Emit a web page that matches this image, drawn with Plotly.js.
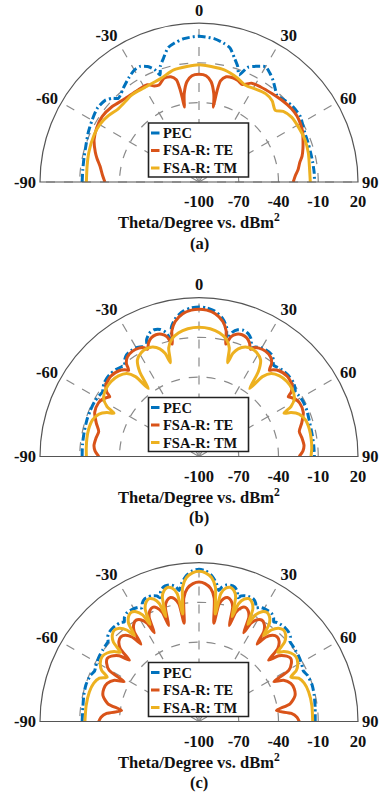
<!DOCTYPE html>
<html>
<head>
<meta charset="utf-8">
<script src="https://cdn.plot.ly/plotly-3.0.1.min.js"></script>
<style>
  html, body { margin: 0; padding: 0; background: #fff; }
  #chart { width: 382px; height: 792px; }
</style>
</head>
<body>
<div id="chart"></div>
<script>
// Monostatic RCS (dBm^2) versus incidence angle, three frequency cases.

const seriesNames = ['PEC', 'FSA-R: TE', 'FSA-R: TM'];
const panelLabels = ['(a)', '(b)', '(c)'];
const radialTicks = [-100, -70, -40, -10, 20];
const radialTickText = ['-100', '-70', '-40', '-10', '20'];
const angleTicks = [-90, -60, -30, 0, 30, 60, 90];
const angleTickText = ['-90', '-60', '-30', '0', '30', '60', '90'];

// ---- case (a) ----
const aPecTheta = [-90,-84,-78,-72,-66,-60,-54,-49,-46,-44,-42,-39,-34,-30,-27,-24,-21.5,-20,-18.5,-16,-13,-10,-6,0,6,10,13,16,18.5,20.5,23,26,30,33,36,40,42,44.5,47,50,54,57,61,65,70,75,80,85,90];
const aPecR = [-11.8,-11.8,-11.3,-10.3,-8.5,-6.8,-5.2,-6.1,-9,-12.3,-11.5,-9.1,-5.2,-2.4,-2.1,-4.6,-9,-14,-8,-2.8,3.9,6.5,8.8,10,8.8,6.5,3.9,-2.8,-8,-13.7,-6,-2.9,0.5,-1.9,-5,-10,-12,-11.4,-10.5,-9.3,-8.9,-8.9,-10.5,-11.9,-12.5,-12.9,-12.9,-12.8,-12.8];

const aTeTheta = [-90,-86,-81,-77,-74,-68,-62,-56,-49,-42,-34,-28,-25,-22.4,-18.7,-15,-12.5,-11.6,-11.2,-11,-10.4,-9.5,-6.9,-3.8,0,3.8,6.9,9.5,10.4,10.8,11.2,12,14.5,17.9,21,24,28,33,39.5,46,51.6,56,59.3,64,67.6,72,75.9,79,82.8,86,90];
const aTeR = [-29,-27,-24.4,-21,-18.6,-14.6,-12.6,-11.8,-13.2,-15.8,-16.7,-16.8,-20,-20.9,-17.4,-17.7,-21,-28,-36,-42.4,-38,-32.4,-23.8,-19.6,-18.7,-19.6,-23.8,-32.4,-38,-42.5,-30,-22,-18,-17.3,-18,-19.5,-15.5,-14.5,-13.5,-12,-10.9,-10.8,-11.5,-13,-15.1,-17.5,-19.8,-22.5,-24.6,-27,-28.9];

const aTmTheta = [-90,-82,-75,-66,-60,-54,-48,-43,-38,-34,-31,-28,-20,-12.7,-6,0,6,12.7,20,25.4,31,37,42,46.8,50,55,62,68,75,83.6,90];
const aTmR = [-15,-14.7,-13.9,-13.2,-13.5,-15.2,-17.7,-17.7,-17,-17.3,-17.7,-17.7,-16.6,-13.3,-12.4,-11.6,-12.4,-13.3,-16.2,-19,-18,-16.5,-17.5,-21,-17,-14.7,-14.2,-13.9,-14.6,-16,-16];

// ---- case (b) ----
const bPecTheta = [-90,-84,-78,-72,-67,-62,-58.5,-56.3,-54.5,-52,-47.7,-43.5,-41,-39.2,-37.6,-35.5,-32.4,-29.5,-27.3,-25.6,-24.2,-22,-19.5,-17,-15,-13.4,-12,-9.5,-6,-3,
  0,
  3,6,9.5,12,13.4,15,17,19.5,22,24.2,25.6,27.3,29.5,32.4,35.5,37.6,39.2,41,43.5,47.7,52,54.5,56.3,58.5,62,67,72,78,84,90];
const bPecR = [-11.8,-11.6,-11.4,-11,-10.9,-11,-11.8,-12.4,-11,-9.3,-8.5,-9.3,-10.5,-11,-8,-5.8,-5,-5.5,-6.8,-9,-3.5,0.2,1.5,0.3,-3,-9,0,6,10.5,12.3,
  12.9,
  12.3,10.5,6,0,-9,-3,0,1,-0.3,-3.5,-9,-7,-5.7,-5,-5.5,-8,-11,-10.5,-9.5,-9,-9.5,-11,-12.5,-11.8,-11.2,-11.5,-12.5,-13,-13,-12.9];

const bTeTheta = [-90,-87,-84,-80,-76,-72,-67,-62,-59,-57.3,-56.3,-55,-52.5,-47.7,-43,-40.5,-39.2,-38,-35.8,-32.4,-29,-26.8,-25.6,-24.1,-22,-19.5,-17,-14.9,-13.4,-12.2,-10,-6.5,-3,
  0,
  3,6.5,10,12.2,13.4,14.9,17,19.5,22,24.1,25.6,26.8,29,32.4,35.8,38,39.2,40.5,43,47.7,52.5,55,56.3,57.3,59,62,67,72,76,80,84,87,90];
const bTeR = [-24.4,-21.5,-20.3,-21,-22,-18.5,-14.5,-14,-15.5,-17.5,-19,-15,-11.5,-10,-11.5,-14,-16,-11,-7.5,-6,-6.5,-8,-10.2,-6.5,-3.5,-2.5,-3.5,-6.5,-12.8,-3,3.5,8.5,10.6,
  11.1,
  10.6,8.5,3.5,-3,-12.8,-6.5,-3.5,-2.5,-3.5,-6.5,-10.2,-8,-6.5,-6,-7.5,-11,-16,-14,-11.5,-10,-11.5,-15,-19,-17.5,-15.5,-14,-14.5,-18.5,-22,-21,-20.3,-21.5,-24.4];

const bTmTheta = [-90,-86,-81,-76,-71,-67,-64.5,-63,-61.5,-58.5,-54,-49.5,-45,-41,-38.5,-36.7,-35,-32.5,-29,-26,-23,-20,-18.2,-16.9,-15.6,-13,-9.5,-5,
  0,
  5,9.5,13,15.6,16.9,18.2,20,23,26,29,32.5,35,36.7,38.5,41,45,49.5,54,58.5,61.5,63,64.5,67,71,76,81,86,90];
const bTmR = [-15,-14.7,-14.3,-14.2,-15,-18,-23,-28,-21,-15.5,-13.2,-12.8,-14,-17,-23,-36,-22,-13.5,-10.3,-9.5,-10.3,-13.5,-18,-26,-15,-9,-5.5,-3.2,
  -2.4,
  -3.2,-5.5,-9,-15,-26,-18,-13.5,-10.3,-9.5,-10.3,-13.5,-22,-36,-23,-17,-14,-12.8,-13.2,-15.5,-21,-28,-23,-18,-15,-14.2,-14.3,-14.7,-15.5];

// ---- case (c) ----
const cPecTheta = [-90,-83,-77,-72,-67,-64.2,-62.3,-59.5,-56.4,-53.3,-50.5,-48.6,-47.2,-45,-42.7,-40.4,-38.3,-36.9,-35.7,-33.8,-31.8,-29.8,-27.9,-26.7,-25.6,-23.9,-22.1,-20.3,-18.6,-17.5,-16.4,-14.8,-13,-11.3,-9.7,-8.6,-7.2,-5,-2.5,
  0,
  2.5,5,7.2,8.6,9.7,11.3,13,14.8,16.4,17.5,18.6,20.3,22.1,23.9,25.6,26.7,27.9,29.8,31.8,33.8,35.7,36.9,38.3,40.4,42.7,45,47.2,48.6,50.5,53.3,56.4,59.5,62.3,64.2,67,72,77,83,90];
const cPecR = [-11.8,-11.7,-10.8,-10.3,-11,-12.5,-11.8,-10.8,-10,-9.5,-9,-8.5,-6,-4.4,-4,-4.2,-4.8,-6,-3.5,-1.7,-1.5,-1.7,-2.5,-4,-1,1.2,1.5,1.2,0,-2,2.5,5,5.5,5,3,0,5,10.5,13.8,
  14.9,
  13.8,10.5,5,0,3,5,5.5,5,2.5,-2,0,1.2,1.5,1.2,-1,-4,-2.5,-1.7,-1.5,-1.7,-3.5,-6,-4.8,-4.2,-4,-4.4,-6,-8.5,-9,-9.5,-10,-10.8,-11.8,-12.5,-11,-10.3,-10.8,-11.7,-12.3];

const cTeTheta = [-90,-87.5,-85,-82,-79,-75,-71,-67.5,-64,-62,-60.3,-57.7,-55.5,-53.3,-50.5,-48.6,-47.2,-45,-42.7,-40.4,-38.3,-36.9,-35.7,-33.8,-31.8,-29.8,-27.9,-26.7,-25.6,-23.9,-22.1,-20.3,-18.6,-17.5,-16.4,-14.8,-13,-11.3,-9.7,-8.6,-7,-5,-2.5,
  0,
  2.5,5,7,8.6,9.7,11.3,13,14.8,16.4,17.5,18.6,20.3,22.1,23.9,25.6,26.7,27.9,29.8,31.8,33.8,35.7,36.9,38.3,40.4,42.7,45,47.2,48.6,50.5,53.3,55.5,57.7,60.3,62,64,67.5,71,75,79,82,85,87.5,90];
const cTeR = [-24.3,-26,-30,-41,-30,-25,-24,-25,-29,-36,-22,-17.5,-16,-17.5,-22,-30,-19,-14.5,-13,-14.5,-19,-27,-16,-11.5,-10,-11.5,-16,-25,-13,-8.5,-7,-8.5,-13,-24,-10,-5.5,-4,-5.5,-10,-25,-6,0.8,4.1,
  5.2,
  4.1,0.8,-6,-25,-10,-5.5,-4,-5.5,-10,-24,-13,-8.5,-7,-8.5,-13,-25,-16,-11.5,-10,-11.5,-16,-27,-19,-14.5,-13,-14.5,-19,-30,-22,-17.5,-16,-17.5,-22,-36,-29,-25,-24,-25,-30,-41,-30,-26,-24.3];

const cTmTheta = [-90,-82,-75,-70,-66.5,-64.2,-62.3,-59.5,-56.4,-53.3,-50.5,-48.6,-47.2,-45,-42.7,-40.4,-38.3,-36.9,-35.7,-33.8,-31.8,-29.8,-27.9,-26.7,-25.6,-23.9,-22.1,-20.3,-18.6,-17.5,-16.4,-14.8,-13,-11.3,-9.7,-8.6,-7,-5,-2.5,
  0,
  2.5,5,7,8.6,9.7,11.3,13,14.8,16.4,17.5,18.6,20.3,22.1,23.9,25.6,26.7,27.9,29.8,31.8,33.8,35.7,36.9,38.3,40.4,42.7,45,47.2,48.6,50.5,53.3,56.4,59.5,62.3,64.2,66.5,70,75,82,90];
const cTmR = [-13.9,-14,-14.3,-15.5,-18,-23,-17,-13.5,-12,-13.5,-17,-21,-12,-7.5,-6,-7.5,-12,-19,-9,-4.5,-3,-4.5,-9,-18,-6,-1.5,0,-1.5,-6,-17,-2,2.5,4,2.5,-2,-18,2,9,12.3,
  13.4,
  12.3,9,2,-18,-2,2.5,4,2.5,-2,-17,-6,-1.5,0,-1.5,-6,-18,-9,-4.5,-3,-4.5,-9,-19,-12,-7.5,-6,-7.5,-12,-21,-17,-13.5,-12,-13.5,-17,-23,-18,-15.5,-14.3,-14,-14.2];

const cases = [
  { pec: [aPecTheta, aPecR], te: [aTeTheta, aTeR], tm: [aTmTheta, aTmR] },
  { pec: [bPecTheta, bPecR], te: [bTeTheta, bTeR], tm: [bTmTheta, bTmR] },
  { pec: [cPecTheta, cPecR], te: [cTeTheta, cTeR], tm: [cTmTheta, cTmR] }
];

// ---- geometry (pixels on the 382 x 792 page) ----
const W = 382, H = 792;
const CX = 199, R = 159;
const baselines = [182, 456.5, 721.5];
const px = x => x / W;
const py = y => 1 - y / H;

const FONT = 'Liberation Serif';
const TXT = '#111';
const colors = ['#0072BD', '#D95319', '#EDB120'];
const gridColor = '#8a8a8a';
const tickFont = { family: FONT, size: 16.5, color: TXT, weight: 700 };
const textFont = { family: FONT, size: 16.5, color: TXT, weight: 700 };
const legendFont = { family: FONT, size: 14.5, color: TXT, weight: 700 };
const bold = s => '<b>' + s + '</b>';

const traces = [];
const layout = {
  width: W, height: H,
  margin: { l: 0, r: 0, t: 0, b: 0 },
  paper_bgcolor: '#fff',
  showlegend: false,
  font: { family: FONT, color: TXT, weight: 700 },
  shapes: [],
  annotations: []
};

cases.forEach((cs, i) => {
  const key = i === 0 ? 'polar' : 'polar' + (i + 1);
  const base = baselines[i];

  [cs.pec, cs.te, cs.tm].forEach((s, k) => {
    traces.push({
      type: 'scatterpolar',
      subplot: key,
      mode: 'lines',
      name: seriesNames[k],
      theta: s[0],
      r: s[1],
      line: {
        color: colors[k],
        width: 3,
        dash: k === 0 ? '8px,3px,2px,3px' : 'solid',
        shape: 'spline',
        smoothing: 0.7
      },
      hoverinfo: 'skip'
    });
  });

  layout[key] = {
    domain: { x: [px(CX - R), px(CX + R)], y: [py(base), py(base - R)] },
    sector: [0, 180],
    bgcolor: '#fff',
    angularaxis: {
      rotation: 90,
      direction: 'clockwise',
      tickmode: 'array',
      tickvals: angleTicks,
      ticktext: angleTickText.map(bold),
      ticks: '',
      showgrid: true,
      gridcolor: gridColor,
      griddash: 'dash',
      gridwidth: 1.2,
      showline: true,
      linecolor: '#555',
      linewidth: 1.2,
      tickfont: tickFont
    },
    radialaxis: {
      range: [-100, 20],
      tickmode: 'array',
      tickvals: radialTicks,
      ticktext: radialTickText.map(bold),
      ticks: 'outside',
      ticklen: 5,
      tickcolor: 'rgba(0,0,0,0)',
      side: 'clockwise',
      showline: false,
      showgrid: true,
      gridcolor: gridColor,
      griddash: 'dash',
      gridwidth: 1.2,
      tickfont: tickFont
    }
  };

  // axis caption and panel tag
  layout.annotations.push({
    xref: 'paper', yref: 'paper', x: px(CX), y: py(base + 40),
    text: bold('Theta/Degree vs. dBm<sup>2</sup>'), showarrow: false,
    xanchor: 'center', yanchor: 'middle', font: textFont
  });
  layout.annotations.push({
    xref: 'paper', yref: 'paper', x: px(CX), y: py(base + 61),
    text: bold(panelLabels[i]), showarrow: false,
    xanchor: 'center', yanchor: 'middle', font: textFont
  });

  // legend box
  const bx0 = 148.5, bx1 = 248.5, by0 = base - 59, by1 = base - 5;
  layout.shapes.push({
    type: 'rect', xref: 'paper', yref: 'paper', layer: 'above',
    x0: px(bx0), x1: px(bx1), y0: py(by1), y1: py(by0),
    line: { color: '#222', width: 1.6 }, fillcolor: '#fff'
  });
  seriesNames.forEach((nm, k) => {
    const yy = by0 + 10 + k * 17.5;
    layout.shapes.push({
      type: 'line', xref: 'paper', yref: 'paper', layer: 'above',
      x0: px(bx0 + 2.5), x1: px(bx0 + 11), y0: py(yy), y1: py(yy),
      line: { color: colors[k], width: 3 }
    });
    layout.annotations.push({
      xref: 'paper', yref: 'paper', x: px(bx0 + 12.5), y: py(yy),
      text: bold(nm), showarrow: false, xanchor: 'left', yanchor: 'middle',
      font: legendFont
    });
  });
});

Plotly.newPlot('chart', traces, layout, { staticPlot: true, displayModeBar: false });
</script>
</body>
</html>
